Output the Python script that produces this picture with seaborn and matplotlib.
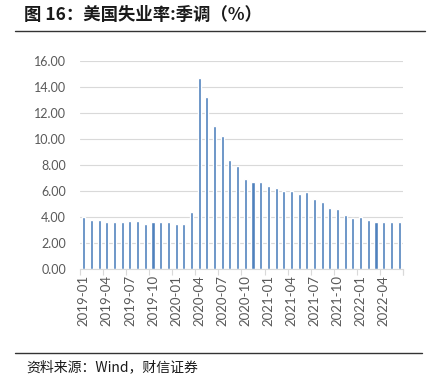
import matplotlib
matplotlib.use("Agg")
import matplotlib.pyplot as plt
import seaborn as sns
import pandas as pd
import numpy as np
from matplotlib.lines import Line2D

months = pd.date_range("2019-01-01", "2022-06-01", freq="MS").strftime("%Y-%m").tolist()
rates = [4.0, 3.8, 3.8, 3.6, 3.6, 3.6, 3.7, 3.7, 3.5, 3.6, 3.6, 3.6,
         3.5, 3.5, 4.4, 14.7, 13.2, 11.0, 10.2, 8.4, 7.9, 6.9, 6.7, 6.7,
         6.4, 6.2, 6.0, 6.0, 5.8, 5.9, 5.4, 5.2, 4.7, 4.6, 4.2, 3.9,
         4.0, 3.8, 3.6, 3.6, 3.6, 3.6]
y_ticks = [0, 2, 4, 6, 8, 10, 12, 14, 16]
title = "图 16：美国失业率:季调（%）"
source = "资料来源：Wind，财信证券"

df = pd.DataFrame({"month": months, "rate": rates})

sns.set_theme(style="white")
plt.rcParams['font.family'] = ['Lato', 'DejaVu Sans']

fig = plt.figure(figsize=(4.30, 3.82), dpi=100)
ax = fig.add_axes([0.186, 0.295, 0.751, 0.546])

sns.barplot(data=df, x="month", y="rate", color="#4F81BD", width=0.4,
            saturation=1, ax=ax)

ax.set_ylim(0, 16)
ax.set_xlim(-0.5, len(months) - 0.5)
ax.set_yticks(y_ticks)
ax.set_yticklabels([f"{v:.2f}" for v in y_ticks], fontsize=9, color="#595959")
ax.grid(axis="y", color="#D9D9D9", linewidth=0.8)
ax.set_axisbelow(True)

lab_pos = list(range(0, len(months), 3))
ax.set_xticks(lab_pos)
ax.set_xticklabels([months[i] for i in lab_pos], rotation=90, fontsize=9.5, color="#595959")
ax.set_xticks(np.arange(-0.5, len(months), 3).tolist() + [len(months) - 0.5], minor=True)
ax.tick_params(axis="x", which="major", length=0, pad=4)
ax.tick_params(axis="x", which="minor", length=4, color="#D9D9D9", width=0.8, bottom=True)
ax.tick_params(axis="y", length=0, pad=10)
ax.set_xlabel("")
ax.set_ylabel("")
for s in ["top", "right", "left"]:
    ax.spines[s].set_visible(False)
ax.spines["bottom"].set_color("#D9D9D9")
ax.spines["bottom"].set_linewidth(0.8)

fig.text(0.056, 0.962, title, fontsize=12.5, fontweight="bold",
         family=["Noto Sans CJK SC", "DejaVu Sans"], va="center", ha="left", color="#1a1a1a")
fig.add_artist(Line2D([0.035, 0.988], [0.919, 0.919], color="#333333", linewidth=1.0,
                      transform=fig.transFigure))
fig.add_artist(Line2D([0.035, 0.982], [0.076, 0.076], color="#333333", linewidth=1.0,
                      transform=fig.transFigure))
fig.text(0.062, 0.038, source, fontsize=10, style="italic",
         family=["Noto Sans CJK SC", "DejaVu Sans"], va="center", ha="left", color="#1a1a1a")

fig.savefig("out.png", dpi=100)
